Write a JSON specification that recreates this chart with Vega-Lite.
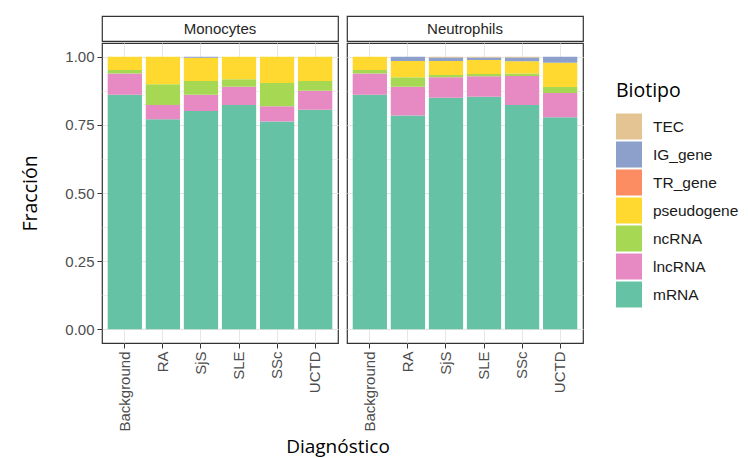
{
  "$schema": "https://vega.github.io/schema/vega-lite/v6.json",
  "padding": {"left": 20, "top": 15, "right": 0, "bottom": 5},
  "background": "white",
  "datasets": {
    "bio": [
      {"Celltype": "Monocytes", "Diagnostico": "Background", "Biotipo": "mRNA", "Fraccion": 0.860},
      {"Celltype": "Monocytes", "Diagnostico": "Background", "Biotipo": "lncRNA", "Fraccion": 0.078},
      {"Celltype": "Monocytes", "Diagnostico": "Background", "Biotipo": "ncRNA", "Fraccion": 0.013},
      {"Celltype": "Monocytes", "Diagnostico": "Background", "Biotipo": "pseudogene", "Fraccion": 0.049},
      {"Celltype": "Monocytes", "Diagnostico": "RA", "Biotipo": "mRNA", "Fraccion": 0.770},
      {"Celltype": "Monocytes", "Diagnostico": "RA", "Biotipo": "lncRNA", "Fraccion": 0.053},
      {"Celltype": "Monocytes", "Diagnostico": "RA", "Biotipo": "ncRNA", "Fraccion": 0.076},
      {"Celltype": "Monocytes", "Diagnostico": "RA", "Biotipo": "pseudogene", "Fraccion": 0.101},
      {"Celltype": "Monocytes", "Diagnostico": "SjS", "Biotipo": "mRNA", "Fraccion": 0.801},
      {"Celltype": "Monocytes", "Diagnostico": "SjS", "Biotipo": "lncRNA", "Fraccion": 0.059},
      {"Celltype": "Monocytes", "Diagnostico": "SjS", "Biotipo": "ncRNA", "Fraccion": 0.051},
      {"Celltype": "Monocytes", "Diagnostico": "SjS", "Biotipo": "pseudogene", "Fraccion": 0.085},
      {"Celltype": "Monocytes", "Diagnostico": "SjS", "Biotipo": "IG_gene", "Fraccion": 0.004},
      {"Celltype": "Monocytes", "Diagnostico": "SLE", "Biotipo": "mRNA", "Fraccion": 0.823},
      {"Celltype": "Monocytes", "Diagnostico": "SLE", "Biotipo": "lncRNA", "Fraccion": 0.067},
      {"Celltype": "Monocytes", "Diagnostico": "SLE", "Biotipo": "ncRNA", "Fraccion": 0.027},
      {"Celltype": "Monocytes", "Diagnostico": "SLE", "Biotipo": "pseudogene", "Fraccion": 0.083},
      {"Celltype": "Monocytes", "Diagnostico": "SSc", "Biotipo": "mRNA", "Fraccion": 0.762},
      {"Celltype": "Monocytes", "Diagnostico": "SSc", "Biotipo": "lncRNA", "Fraccion": 0.056},
      {"Celltype": "Monocytes", "Diagnostico": "SSc", "Biotipo": "ncRNA", "Fraccion": 0.085},
      {"Celltype": "Monocytes", "Diagnostico": "SSc", "Biotipo": "pseudogene", "Fraccion": 0.097},
      {"Celltype": "Monocytes", "Diagnostico": "UCTD", "Biotipo": "mRNA", "Fraccion": 0.805},
      {"Celltype": "Monocytes", "Diagnostico": "UCTD", "Biotipo": "lncRNA", "Fraccion": 0.070},
      {"Celltype": "Monocytes", "Diagnostico": "UCTD", "Biotipo": "ncRNA", "Fraccion": 0.036},
      {"Celltype": "Monocytes", "Diagnostico": "UCTD", "Biotipo": "pseudogene", "Fraccion": 0.089},
      {"Celltype": "Neutrophils", "Diagnostico": "Background", "Biotipo": "mRNA", "Fraccion": 0.860},
      {"Celltype": "Neutrophils", "Diagnostico": "Background", "Biotipo": "lncRNA", "Fraccion": 0.078},
      {"Celltype": "Neutrophils", "Diagnostico": "Background", "Biotipo": "ncRNA", "Fraccion": 0.013},
      {"Celltype": "Neutrophils", "Diagnostico": "Background", "Biotipo": "pseudogene", "Fraccion": 0.049},
      {"Celltype": "Neutrophils", "Diagnostico": "RA", "Biotipo": "mRNA", "Fraccion": 0.784},
      {"Celltype": "Neutrophils", "Diagnostico": "RA", "Biotipo": "lncRNA", "Fraccion": 0.106},
      {"Celltype": "Neutrophils", "Diagnostico": "RA", "Biotipo": "ncRNA", "Fraccion": 0.034},
      {"Celltype": "Neutrophils", "Diagnostico": "RA", "Biotipo": "pseudogene", "Fraccion": 0.060},
      {"Celltype": "Neutrophils", "Diagnostico": "RA", "Biotipo": "IG_gene", "Fraccion": 0.016},
      {"Celltype": "Neutrophils", "Diagnostico": "SjS", "Biotipo": "mRNA", "Fraccion": 0.849},
      {"Celltype": "Neutrophils", "Diagnostico": "SjS", "Biotipo": "lncRNA", "Fraccion": 0.075},
      {"Celltype": "Neutrophils", "Diagnostico": "SjS", "Biotipo": "ncRNA", "Fraccion": 0.009},
      {"Celltype": "Neutrophils", "Diagnostico": "SjS", "Biotipo": "pseudogene", "Fraccion": 0.051},
      {"Celltype": "Neutrophils", "Diagnostico": "SjS", "Biotipo": "IG_gene", "Fraccion": 0.013},
      {"Celltype": "Neutrophils", "Diagnostico": "SjS", "Biotipo": "TEC", "Fraccion": 0.003},
      {"Celltype": "Neutrophils", "Diagnostico": "SLE", "Biotipo": "mRNA", "Fraccion": 0.853},
      {"Celltype": "Neutrophils", "Diagnostico": "SLE", "Biotipo": "lncRNA", "Fraccion": 0.075},
      {"Celltype": "Neutrophils", "Diagnostico": "SLE", "Biotipo": "ncRNA", "Fraccion": 0.008},
      {"Celltype": "Neutrophils", "Diagnostico": "SLE", "Biotipo": "pseudogene", "Fraccion": 0.052},
      {"Celltype": "Neutrophils", "Diagnostico": "SLE", "Biotipo": "IG_gene", "Fraccion": 0.009},
      {"Celltype": "Neutrophils", "Diagnostico": "SLE", "Biotipo": "TEC", "Fraccion": 0.003},
      {"Celltype": "Neutrophils", "Diagnostico": "SSc", "Biotipo": "mRNA", "Fraccion": 0.823},
      {"Celltype": "Neutrophils", "Diagnostico": "SSc", "Biotipo": "lncRNA", "Fraccion": 0.106},
      {"Celltype": "Neutrophils", "Diagnostico": "SSc", "Biotipo": "ncRNA", "Fraccion": 0.009},
      {"Celltype": "Neutrophils", "Diagnostico": "SSc", "Biotipo": "pseudogene", "Fraccion": 0.045},
      {"Celltype": "Neutrophils", "Diagnostico": "SSc", "Biotipo": "IG_gene", "Fraccion": 0.014},
      {"Celltype": "Neutrophils", "Diagnostico": "SSc", "Biotipo": "TEC", "Fraccion": 0.003},
      {"Celltype": "Neutrophils", "Diagnostico": "UCTD", "Biotipo": "mRNA", "Fraccion": 0.778},
      {"Celltype": "Neutrophils", "Diagnostico": "UCTD", "Biotipo": "lncRNA", "Fraccion": 0.089},
      {"Celltype": "Neutrophils", "Diagnostico": "UCTD", "Biotipo": "ncRNA", "Fraccion": 0.022},
      {"Celltype": "Neutrophils", "Diagnostico": "UCTD", "Biotipo": "pseudogene", "Fraccion": 0.089},
      {"Celltype": "Neutrophils", "Diagnostico": "UCTD", "Biotipo": "IG_gene", "Fraccion": 0.022}
    ],
    "strips": [{"panel": "Monocytes"}, {"panel": "Neutrophils"}]
  },
  "title": {
    "text": "Diagnóstico",
    "orient": "bottom",
    "anchor": "middle",
    "frame": "group",
    "dx": 236,
    "font": "Open Sans",
    "fontSize": 19,
    "fontWeight": "normal",
    "color": "black",
    "offset": 6
  },
  "spacing": 7,
  "hconcat": [
    {
      "spacing": 0,
      "vconcat": [
        {
          "width": 236,
          "height": 25,
          "data": {"name": "strips"},
          "transform": [{"filter": "datum.panel === 'Monocytes'"}],
          "view": {"stroke": "#333333", "strokeWidth": 1.2, "fill": "white"},
          "mark": {"type": "text", "font": "Liberation Sans", "fontSize": 15, "color": "#262626"},
          "encoding": {"text": {"field": "panel", "type": "nominal"}}
        },
        {
          "width": 236,
          "height": 300,
          "data": {"name": "bio"},
          "transform": [
            {"filter": "datum.Celltype === 'Monocytes'"},
            {"calculate": "indexof(['mRNA','lncRNA','ncRNA','pseudogene','TR_gene','IG_gene','TEC'], datum.Biotipo)", "as": "stackRank"}
          ],
          "mark": {"type": "bar"},
          "encoding": {
            "x": {
              "field": "Diagnostico", "type": "nominal",
              "sort": ["Background", "RA", "SjS", "SLE", "SSc", "UCTD"],
              "scale": {"paddingInner": 0.1, "paddingOuter": 0.15},
              "axis": {"title": null, "labelAngle": -90}
            },
            "y": {
              "field": "Fraccion", "type": "quantitative", "stack": "zero",
              "scale": {"domain": [-0.05, 1.05], "nice": false, "zero": false},
              "axis": {
                "title": "Fracción",
                "values": [0, 0.125, 0.25, 0.375, 0.5, 0.625, 0.75, 0.875, 1],
                "labelExpr": "(datum.value * 4) % 1 === 0 ? format(datum.value, '.2f') : ''",
                "tickOpacity": {"condition": {"test": "(datum.value * 4) % 1 === 0", "value": 1}, "value": 0},
                "gridWidth": {"condition": {"test": "(datum.value * 4) % 1 === 0", "value": 1}, "value": 0.6}
              }
            },
            "order": {"field": "stackRank", "type": "quantitative", "sort": "ascending"},
            "color": {
              "field": "Biotipo", "type": "nominal",
              "scale": {
                "domain": ["TEC", "IG_gene", "TR_gene", "pseudogene", "ncRNA", "lncRNA", "mRNA"],
                "range": ["#E5C494", "#8DA0CB", "#FC8D62", "#FFD92F", "#A6D854", "#E78AC3", "#66C2A5"]
              }
            }
          }
        }
      ]
    },
    {
      "spacing": 0,
      "vconcat": [
        {
          "width": 236,
          "height": 25,
          "data": {"name": "strips"},
          "transform": [{"filter": "datum.panel === 'Neutrophils'"}],
          "view": {"stroke": "#333333", "strokeWidth": 1.2, "fill": "white"},
          "mark": {"type": "text", "font": "Liberation Sans", "fontSize": 15, "color": "#262626"},
          "encoding": {"text": {"field": "panel", "type": "nominal"}}
        },
        {
          "width": 236,
          "height": 300,
          "data": {"name": "bio"},
          "transform": [
            {"filter": "datum.Celltype === 'Neutrophils'"},
            {"calculate": "indexof(['mRNA','lncRNA','ncRNA','pseudogene','TR_gene','IG_gene','TEC'], datum.Biotipo)", "as": "stackRank"}
          ],
          "mark": {"type": "bar"},
          "encoding": {
            "x": {
              "field": "Diagnostico", "type": "nominal",
              "sort": ["Background", "RA", "SjS", "SLE", "SSc", "UCTD"],
              "scale": {"paddingInner": 0.1, "paddingOuter": 0.15},
              "axis": {"title": null, "labelAngle": -90}
            },
            "y": {
              "field": "Fraccion", "type": "quantitative", "stack": "zero",
              "scale": {"domain": [-0.05, 1.05], "nice": false, "zero": false},
              "axis": {
                "title": null,
                "labels": false,
                "ticks": false,
                "values": [0, 0.125, 0.25, 0.375, 0.5, 0.625, 0.75, 0.875, 1],
                "gridWidth": {"condition": {"test": "(datum.value * 4) % 1 === 0", "value": 1}, "value": 0.6}
              }
            },
            "order": {"field": "stackRank", "type": "quantitative", "sort": "ascending"},
            "color": {
              "field": "Biotipo", "type": "nominal",
              "scale": {
                "domain": ["TEC", "IG_gene", "TR_gene", "pseudogene", "ncRNA", "lncRNA", "mRNA"],
                "range": ["#E5C494", "#8DA0CB", "#FC8D62", "#FFD92F", "#A6D854", "#E78AC3", "#66C2A5"]
              }
            }
          }
        }
      ]
    }
  ],
  "config": {
    "view": {"stroke": "#333333", "strokeWidth": 1.2},
    "axis": {
      "domain": false,
      "grid": true,
      "gridColor": "#e6e6e6",
      "tickColor": "#333333",
      "tickSize": 5,
      "labelFont": "Liberation Sans",
      "labelFontSize": 15,
      "labelColor": "#4d4d4d",
      "labelPadding": 3,
      "titleFont": "Open Sans",
      "titleFontSize": 19.5,
      "titleFontWeight": "normal",
      "titleColor": "black",
      "titlePadding": 24
    },
    "axisX": {"bandPosition": 0.5},
    "legend": {
      "orient": "none",
      "legendX": 514,
      "legendY": 66,
      "padding": 0,
      "titleFont": "Open Sans",
      "titleFontSize": 19.5,
      "titleFontWeight": "normal",
      "titleColor": "black",
      "titlePadding": 12,
      "labelFont": "Liberation Sans",
      "labelFontSize": 15.5,
      "labelColor": "#1a1a1a",
      "labelOffset": 11,
      "symbolType": "square",
      "symbolSize": 676,
      "symbolStrokeWidth": 0,
      "symbolOpacity": 1,
      "rowPadding": 2
    }
  }
}
